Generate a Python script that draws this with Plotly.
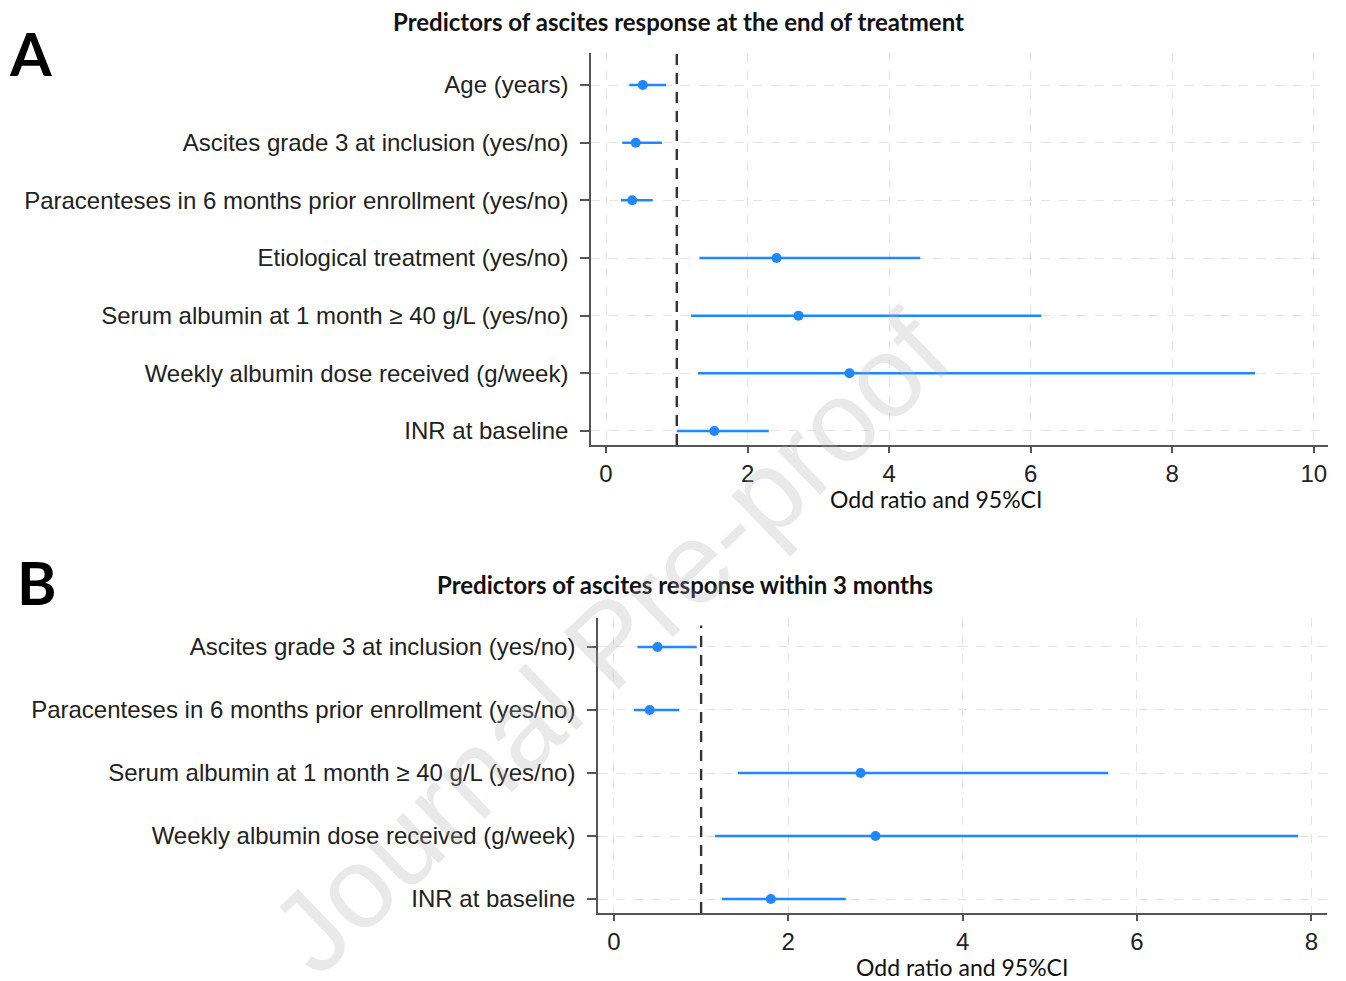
import plotly.graph_objects as go

# ---------------- Data ----------------
labels_a = [
    "Age (years)",
    "Ascites grade 3 at inclusion (yes/no)",
    "Paracenteses in 6 months prior enrollment (yes/no)",
    "Etiological treatment (yes/no)",
    "Serum albumin at 1 month \u2265 40 g/L (yes/no)",
    "Weekly albumin dose received (g/week)",
    "INR at baseline",
]
or_a = [0.52, 0.42, 0.37, 2.41, 2.72, 3.44, 1.53]
lo_a = [0.33, 0.23, 0.21, 1.32, 1.20, 1.30, 1.00]
hi_a = [0.85, 0.79, 0.66, 4.44, 6.15, 9.17, 2.30]

labels_b = [
    "Ascites grade 3 at inclusion (yes/no)",
    "Paracenteses in 6 months prior enrollment (yes/no)",
    "Serum albumin at 1 month \u2265 40 g/L (yes/no)",
    "Weekly albumin dose received (g/week)",
    "INR at baseline",
]
or_b = [0.50, 0.41, 2.83, 3.00, 1.80]
lo_b = [0.27, 0.23, 1.42, 1.16, 1.24]
hi_b = [0.95, 0.75, 5.67, 7.85, 2.66]

ticks_a = [0, 2, 4, 6, 8, 10]
ticks_b = [0, 2, 4, 6, 8]

title_a = "Predictors of ascites response at the end of treatment"
title_b = "Predictors of ascites response within 3 months"
xtitle = "Odd ratio and 95%CI"

# ---------------- Figure ----------------
W, H = 1346, 981
BLUE = "#1f87ff"

def px(x):
    return x / W

def py(y):
    return 1 - y / H

fig = go.Figure()

rows_a = list(range(1, len(labels_a) + 1))
rows_b = list(range(1, len(labels_b) + 1))

fig.add_trace(go.Scatter(
    x=or_a, y=rows_a, mode="markers",
    marker=dict(size=10, color=BLUE),
    error_x=dict(type="data", symmetric=False,
                 array=[h - o for h, o in zip(hi_a, or_a)],
                 arrayminus=[o - l for o, l in zip(or_a, lo_a)],
                 width=0, thickness=2.5, color=BLUE),
    xaxis="x", yaxis="y", showlegend=False, hoverinfo="skip"))

fig.add_trace(go.Scatter(
    x=or_b, y=rows_b, mode="markers",
    marker=dict(size=10, color=BLUE),
    error_x=dict(type="data", symmetric=False,
                 array=[h - o for h, o in zip(hi_b, or_b)],
                 arrayminus=[o - l for o, l in zip(or_b, lo_b)],
                 width=0, thickness=2.5, color=BLUE),
    xaxis="x2", yaxis="y2", showlegend=False, hoverinfo="skip"))

TICKFONT = dict(family="Liberation Sans, Arial, sans-serif", size=24, color="#222222")

common_x = dict(
    showline=True, linecolor="#555555", linewidth=1.6,
    ticks="outside", ticklen=6, tickcolor="#555555", tickwidth=1.5,
    showgrid=True, gridcolor="#e4e4e4", griddash="dash", gridwidth=1,
    zeroline=False, tickfont=TICKFONT,
)
common_y = dict(
    showline=True, linecolor="#555555", linewidth=1.6,
    ticks="outside", ticklen=9, tickcolor="#555555", tickwidth=1.5,
    showgrid=True, gridcolor="#e4e4e4", griddash="dash", gridwidth=1,
    zeroline=False, tickfont=TICKFONT, ticklabelstandoff=7,
)

fig.update_layout(
    width=W, height=H,
    margin=dict(l=0, r=0, t=0, b=0),
    paper_bgcolor="white", plot_bgcolor="white",
    xaxis=dict(domain=[px(591), px(1328)], range=[-0.212, 10.2],
               tickvals=ticks_a, anchor="y", **common_x),
    yaxis=dict(domain=[py(445), py(53)], range=[7.243, 0.445],
               tickvals=rows_a, ticktext=labels_a, anchor="x", **common_y),
    xaxis2=dict(domain=[px(598), px(1327)], range=[-0.183, 8.18],
                tickvals=ticks_b, anchor="y2", **common_x),
    yaxis2=dict(domain=[py(913), py(618)], range=[5.222, 0.54],
                tickvals=rows_b, ticktext=labels_b, anchor="x2", **common_y),
)

# reference lines at OR = 1
fig.add_shape(type="line", xref="x", yref="y domain", x0=1, x1=1, y0=0, y1=1,
              line=dict(color="#333333", width=2.4, dash="11px,8px"))
fig.add_shape(type="line", xref="x2", yref="y2 domain", x0=1, x1=1, y0=0, y1=0.975,
              line=dict(color="#333333", width=2.4, dash="11px,8px"))

TITLEFONT = dict(family="Lato, Carlito, sans-serif", size=24, color="#111111")
ann = [
    dict(text="<b>" + title_a + "</b>", x=px(678), y=py(21), font=TITLEFONT),
    dict(text="<b>" + title_b + "</b>", x=px(685), y=py(584), font=TITLEFONT),
    dict(text=xtitle, x=px(936), y=py(499),
         font=dict(family="Lato, Carlito, sans-serif", size=23, color="#111111")),
    dict(text=xtitle, x=px(962), y=py(967),
         font=dict(family="Lato, Carlito, sans-serif", size=23, color="#111111")),
    dict(text="<b>A</b>", x=px(30), y=py(53),
         font=dict(family="Lato, Carlito, sans-serif", size=60, color="#000000")),
    dict(text="<b>B</b>", x=px(37), y=py(582),
         font=dict(family="Lato, Carlito, sans-serif", size=60, color="#000000")),
    dict(text="Journal Pre-proof", x=px(610), y=py(642), textangle=-44,
         font=dict(family="Liberation Sans, Arial, sans-serif", size=115,
                   color="rgba(170,170,170,0.26)")),
]
for a in ann:
    fig.add_annotation(xref="paper", yref="paper", xanchor="center",
                       yanchor="middle", showarrow=False, **a)

fig.write_html("out.html",
               config={"displayModeBar": False},
               post_script="document.body.style.margin='0';document.body.style.overflow='hidden';")
